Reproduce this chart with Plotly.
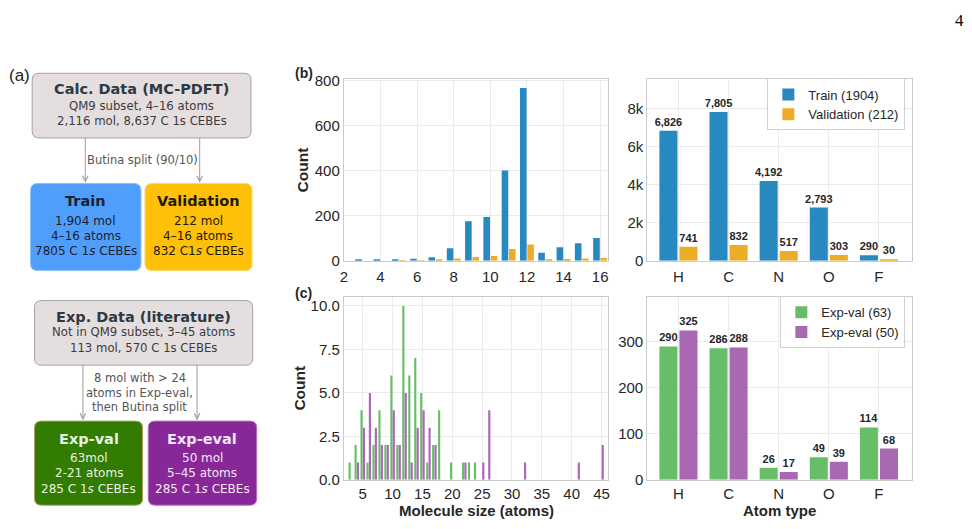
import plotly.graph_objects as go

W, H = 972, 529

# ---------------- data ----------------
train_sizes = [3, 4, 5, 6, 7, 8, 9, 10, 11, 12, 13, 14, 15, 16]
train_counts = [3, 3, 5, 9, 16, 56, 176, 194, 401, 766, 36, 60, 78, 101]
val_sizes = [5, 6, 7, 8, 9, 10, 11, 12, 13, 14, 15, 16]
val_counts = [1, 1, 3, 10, 17, 21, 52, 72, 4, 8, 10, 13]

atoms = ["H", "C", "N", "O", "F"]
train_atoms = [6826, 7805, 4192, 2793, 290]
val_atoms = [741, 832, 517, 303, 30]

expval_sizes = [3, 4, 5, 6, 7, 8, 9, 10, 11, 12, 13, 14, 15, 16, 17, 18, 20, 22, 23, 24]
expval_counts = [1, 2, 4, 1, 2, 4, 2, 6, 2, 10, 6, 7, 5, 1, 2, 4, 1, 1, 1, 1]
expeval_sizes = [4, 5, 6, 7, 8, 9, 10, 11, 12, 13, 14, 15, 16, 17, 22, 25, 26, 32, 41, 45]
expeval_counts = [1, 3, 5, 3, 2, 2, 4, 2, 5, 1, 3, 4, 3, 2, 1, 1, 4, 1, 1, 2]

expval_atoms = [290, 286, 26, 49, 114]
expeval_atoms = [325, 288, 17, 39, 68]

b_xticks = [2, 4, 6, 8, 10, 12, 14, 16]
b_yticks = [0, 200, 400, 600, 800]
b2_yticks = [0, 2000, 4000, 6000, 8000]
b2_yticktext = ["0", "2k", "4k", "6k", "8k"]
c_xticks = [5, 10, 15, 20, 25, 30, 35, 40, 45]
c_yticks = [0, 2.5, 5.0, 7.5, 10.0]
c2_yticks = [0, 100, 200, 300]

# ---------------- styles ----------------
BLUE = "rgb(40,136,192)"
ORANGE = "rgb(236,172,40)"
GREEN = "rgb(104,190,104)"
PURPLE = "rgb(168,104,178)"
TXT = "#262626"
SANS = "Liberation Sans, Arial, sans-serif"
VERD = "DejaVu Sans, Verdana, sans-serif"


def px(x):
    return x / W


def py(y):
    return 1 - y / H


fig = go.Figure()

# panel b left
fig.add_trace(go.Bar(x=train_sizes, y=train_counts, marker_color=BLUE, showlegend=False,
                     xaxis="x", yaxis="y", marker_line_width=0))
fig.add_trace(go.Bar(x=val_sizes, y=val_counts, marker_color=ORANGE, showlegend=False,
                     xaxis="x", yaxis="y", marker_line_width=0))

lbl_font = dict(family=SANS, size=11, color=TXT, weight="bold")
# panel b right
fig.add_trace(go.Bar(x=atoms, y=train_atoms, marker_color=BLUE, name="Train (1904)",
                     xaxis="x2", yaxis="y2", legend="legend", marker_line_width=0,
                     text=train_atoms, texttemplate="%{y:,}", textposition="outside",
                     textfont=lbl_font, cliponaxis=False, constraintext="none"))
fig.add_trace(go.Bar(x=atoms, y=val_atoms, marker_color=ORANGE, name="Validation (212)",
                     xaxis="x2", yaxis="y2", legend="legend", marker_line_width=0,
                     text=val_atoms, texttemplate="%{y:,}", textposition="outside",
                     textfont=lbl_font, cliponaxis=False, constraintext="none"))

# panel c left
fig.add_trace(go.Bar(x=expval_sizes, y=expval_counts, marker_color=GREEN, showlegend=False,
                     xaxis="x3", yaxis="y3", marker_line_width=0))
fig.add_trace(go.Bar(x=expeval_sizes, y=expeval_counts, marker_color=PURPLE, showlegend=False,
                     xaxis="x3", yaxis="y3", marker_line_width=0))

# panel c right
fig.add_trace(go.Bar(x=atoms, y=expval_atoms, marker_color=GREEN, name="Exp-val (63)",
                     xaxis="x4", yaxis="y4", legend="legend2", marker_line_width=0,
                     text=expval_atoms, texttemplate="%{y:,}", textposition="outside",
                     textfont=lbl_font, cliponaxis=False, constraintext="none"))
fig.add_trace(go.Bar(x=atoms, y=expeval_atoms, marker_color=PURPLE, name="Exp-eval (50)",
                     xaxis="x4", yaxis="y4", legend="legend2", marker_line_width=0,
                     text=expeval_atoms, texttemplate="%{y:,}", textposition="outside",
                     textfont=lbl_font, cliponaxis=False, constraintext="none"))

axis_common = dict(showline=True, mirror=True, linecolor="#cccccc", linewidth=1.3,
                   showgrid=True, gridcolor="#ebebeb", gridwidth=1, zeroline=False,
                   ticks="", tickfont=dict(family=SANS, size=15, color=TXT))

XL = [px(341.7), px(607.5)]
XR = [px(646.7), px(912.7)]
YB = [py(260.7), py(73.5)]
YC = [py(486.5), py(298.3)]

leg_common = dict(xanchor="right", yanchor="middle", bgcolor="white", bordercolor="#d0d0d0",
                  borderwidth=1, itemwidth=30, font=dict(family=SANS, size=13, color=TXT),
                  tracegroupgap=0)

fig.update_layout(
    width=W, height=H, margin=dict(l=0, r=0, t=0, b=0),
    paper_bgcolor="white", plot_bgcolor="white",
    barmode="group", bargap=0.2, bargroupgap=0.1,
    xaxis=dict(domain=XL, anchor="y", range=[2.0, 16.45], tickvals=b_xticks,
               ticklabelstandoff=2, **axis_common),
    yaxis=dict(domain=YB, anchor="x", range=[0, 805], tickvals=b_yticks, **axis_common),
    xaxis2=dict(domain=XR, anchor="y2", range=[-0.62, 4.66], type="category",
                ticklabelstandoff=2, **axis_common),
    yaxis2=dict(domain=YB, anchor="x2", range=[0, 9520], tickvals=b2_yticks,
                ticktext=b2_yticktext, **axis_common),
    xaxis3=dict(domain=XL, anchor="y3", range=[1.85, 46.15], tickvals=c_xticks, **axis_common),
    yaxis3=dict(domain=YC, anchor="x3", range=[0, 10.5], tickvals=c_yticks,
                tickformat=".1f", **axis_common),
    xaxis4=dict(domain=XR, anchor="y4", range=[-0.62, 4.66], type="category", **axis_common),
    yaxis4=dict(domain=YC, anchor="x4", range=[0, 397], tickvals=c2_yticks, **axis_common),
    legend=dict(x=px(906), y=py(99.5), **leg_common),
    legend2=dict(x=px(906), y=py(324), **leg_common),
)

ann = []


def text(x, y, s, size, color, family=VERD, bold=False, xanchor="center", yanchor="middle"):
    ann.append(dict(x=px(x), y=py(y), xref="paper", yref="paper", text=s, showarrow=False,
                    xanchor=xanchor, yanchor=yanchor, borderpad=0,
                    font=dict(family=family, size=size, color=color,
                              weight="bold" if bold else "normal")))


# axis titles and panel labels
ann.append(dict(x=px(300), y=py(167), xref="paper", yref="paper", text="Count", showarrow=False,
                textangle=-90, xanchor="center", yanchor="middle",
                font=dict(family=SANS, size=15.5, color=TXT, weight="bold")))
ann.append(dict(x=px(297), y=py(392), xref="paper", yref="paper", text="Count", showarrow=False,
                textangle=-90, xanchor="center", yanchor="middle",
                font=dict(family=SANS, size=15.5, color=TXT, weight="bold")))
text(475, 528, "Molecule size (atoms)", 15, TXT, SANS, True, yanchor="bottom")
text(779.5, 528, "Atom type", 15, TXT, SANS, True, yanchor="bottom")
text(301.7, 67.5, "(b)", 14, TXT, SANS, True)
text(301, 293.5, "(c)", 14, TXT, SANS, True)
text(16, 70, "(a)", 17, "#222222", SANS)
text(960.5, 13, "4", 17, "#000000", "Liberation Serif, serif")

# ---------------- flowchart ----------------
shapes = []


def rrect(x0, y0, x1, y1, fill, line, r=7):
    p = (f"M {px(x0 + r)},{py(y0)} L {px(x1 - r)},{py(y0)} Q {px(x1)},{py(y0)} {px(x1)},{py(y0 + r)} "
         f"L {px(x1)},{py(y1 - r)} Q {px(x1)},{py(y1)} {px(x1 - r)},{py(y1)} "
         f"L {px(x0 + r)},{py(y1)} Q {px(x0)},{py(y1)} {px(x0)},{py(y1 - r)} "
         f"L {px(x0)},{py(y0 + r)} Q {px(x0)},{py(y0)} {px(x0 + r)},{py(y0)} Z")
    shapes.append(dict(type="path", path=p, xref="paper", yref="paper",
                       fillcolor=fill, line=dict(color=line, width=1)))


def arrow(x, y0, y1):
    ann.append(dict(x=px(x), y=py(y1), xref="paper", yref="paper", text="", showarrow=True,
                    ax=0, ay=-(y1 - y0), arrowhead=5, arrowsize=1.1, arrowwidth=1,
                    arrowcolor="#9a9a9a"))


GRAYFILL = "rgb(228,222,222)"
GRAYLINE = "#a8a0a0"
TITLEC = "#2e3a42"
BODYC = "#3c3c3c"
TS = 14.5    # flowchart title size
BS = 11.7    # flowchart body size
LS = 11.5    # arrow label size

# top block
rrect(28.3, 67.3, 248.3, 134, GRAYFILL, GRAYLINE)
text(138.3, 83.5, "Calc. Data (MC-PDFT)", TS, TITLEC, bold=True)
text(138.3, 101, "QM9 subset, 4–16 atoms", BS, BODYC)
text(138.3, 116.7, "2,116 mol, 8,637 C 1s CEBEs", BS, BODYC)
arrow(81.7, 134, 180)
arrow(196.7, 134, 180)
text(139.3, 156.7, "Butina split (90/10)", LS, "#555555")

rrect(26.7, 181, 137.7, 270.7, "rgb(80,158,252)", "#8cc0ff")
text(82.2, 199, "Train", TS, "#1a2230", bold=True)
text(82.2, 220, "1,904 mol", 12, "#1a2230")
text(82.2, 235.5, "4–16 atoms", 12, "#1a2230")
text(82.2, 251, "7805 C 1<i>s</i> CEBEs", 12, "#1a2230")

rrect(141.7, 181, 249.3, 270.7, "rgb(255,192,10)", "#ffd860")
text(195.5, 199, "Validation", TS, "#231a05", bold=True)
text(195.5, 220, "212 mol", 12, "#231a05")
text(195.5, 235.5, "4–16 atoms", 12, "#231a05")
text(195.5, 251, "832 C1<i>s</i> CEBEs", 12, "#231a05")

# bottom block
rrect(30.7, 301.7, 250, 368.3, GRAYFILL, GRAYLINE)
text(140.3, 318.3, "Exp. Data (literature)", TS, TITLEC, bold=True)
text(140.3, 334.5, "Not in QM9 subset, 3–45 atoms", BS, BODYC)
text(140.3, 351, "113 mol, 570 C 1s CEBEs", BS, BODYC)
arrow(79.3, 368.3, 425)
arrow(194, 368.3, 425)
text(136.7, 381.7, "8 mol with > 24", LS, "#555555")
text(136.7, 396.7, "atoms in Exp-eval,", LS, "#555555")
text(136.7, 411.3, "then Butina split", LS, "#555555")

rrect(30.7, 426, 139.3, 512.7, "rgb(50,124,2)", "#b0a060")
text(85, 444, "Exp-val", TS, "#e8f2e0", bold=True)
text(85, 464, "63mol", 12, "#e8f2e0")
text(85, 480, "2-21 atoms", 12, "#e8f2e0")
text(85, 496, "285 C 1<i>s</i> CEBEs", 12, "#e8f2e0")

rrect(145, 426, 254, 512.7, "rgb(136,40,152)", "#b070c0")
text(199.5, 444, "Exp-eval", TS, "#f4e6f6", bold=True)
text(199.5, 464, "50 mol", 12, "#f4e6f6")
text(199.5, 480, "5–45 atoms", 12, "#f4e6f6")
text(199.5, 496, "285 C 1<i>s</i> CEBEs", 12, "#f4e6f6")

fig.update_layout(annotations=ann, shapes=shapes)

fig.write_html("out.html")
